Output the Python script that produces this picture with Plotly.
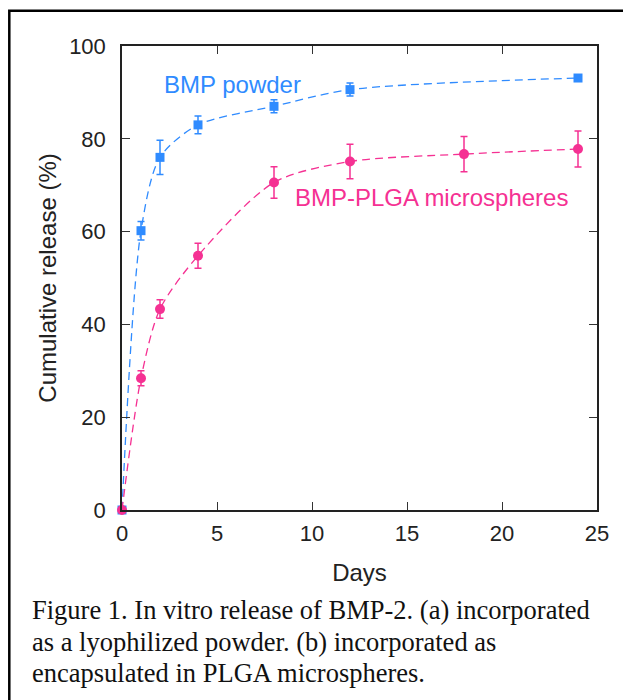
import plotly.graph_objects as go

days = [0, 1, 2, 4, 8, 12, 24]
powder = [0, 60.2, 76.0, 83.0, 87.0, 90.6, 93.1]
powder_err = [0, 2.0, 3.7, 1.9, 1.4, 1.4, 0.0]

days_plga = [0, 1, 2, 4, 8, 12, 18, 24]
plga = [0, 28.4, 43.3, 54.8, 70.6, 75.1, 76.7, 77.8]
plga_err = [0, 1.6, 2.0, 2.7, 3.4, 3.7, 3.8, 3.9]

x_ticks = [0, 5, 10, 15, 20, 25]
y_ticks = [0, 20, 40, 60, 80, 100]

caption_lines = [
    "Figure 1. In vitro release of BMP-2. (a) incorporated",
    "as a lyophilized powder. (b) incorporated as",
    "encapsulated in PLGA microspheres.",
]

BLUE = "#2f8bff"
PINK = "#f53193"

OFF = 8  # page body margin
W, H = 631, 700
L, R, T, B = 121.7 - OFF, 596.7 - OFF, 46.3 - OFF, 509.8 - OFF


def px(xp):
    return (xp - OFF - L) / (R - L)


def py(yp):
    return (B - (yp - OFF)) / (B - T)


fig = go.Figure()
fig.add_trace(go.Scatter(
    x=days, y=powder, mode="lines+markers",
    line=dict(color=BLUE, width=1.3, dash="8px,5px", shape="spline", smoothing=0.8),
    marker=dict(symbol="square", size=9, color=BLUE),
    error_y=dict(type="data", array=powder_err, color=BLUE, thickness=1.5, width=3.5),
    cliponaxis=False, showlegend=False,
))
fig.add_trace(go.Scatter(
    x=days_plga, y=plga, mode="lines+markers",
    line=dict(color=PINK, width=1.3, dash="8px,5px", shape="spline", smoothing=0.8),
    marker=dict(symbol="circle", size=10, color=PINK),
    error_y=dict(type="data", array=plga_err, color=PINK, thickness=1.5, width=3.5),
    cliponaxis=False, showlegend=False,
))

axis_common = dict(
    showline=True, mirror="allticks", linecolor="#222", linewidth=1.5,
    ticks="inside", ticklen=8, tickwidth=1.3, tickcolor="#333",
    showgrid=False, zeroline=False,
    tickfont=dict(family="Liberation Sans, Arial", size=22, color="#222"),
)

fig.update_xaxes(range=[0, 25], tickvals=x_ticks, ticklabelstandoff=3,
                 title=dict(text="Days", font=dict(family="Liberation Sans, Arial", size=24, color="#222"), standoff=19),
                 **axis_common)
fig.update_yaxes(range=[0, 100], tickvals=y_ticks, ticklabelstandoff=10,
                 title=dict(text="Cumulative release (%)", font=dict(family="Liberation Sans, Arial", size=24, color="#222"), standoff=6),
                 **axis_common)

annotations = [
    dict(x=5.83, y=91.6, xref="x", yref="y", text="BMP powder", showarrow=False,
         font=dict(family="Liberation Sans, Arial", size=24, color=BLUE)),
    dict(x=16.3, y=67.3, xref="x", yref="y", text="BMP-PLGA microspheres", showarrow=False,
         font=dict(family="Liberation Sans, Arial", size=24, color=PINK)),
]
for i, line in enumerate(caption_lines):
    annotations.append(dict(
        x=px(30), y=py(610 + 31.5 * i), xref="paper", yref="paper",
        xanchor="left", yanchor="middle", text=line, showarrow=False,
        font=dict(family="Liberation Serif, Times New Roman", size=26.5, color="#111"),
    ))

fig.update_layout(
    width=W, height=H,
    margin=dict(l=L, r=W - R, t=T, b=H - B, pad=0),
    paper_bgcolor="white", plot_bgcolor="white",
    annotations=annotations,
    shapes=[dict(type="rect", xref="paper", yref="paper",
                 x0=px(9), x1=px(680), y0=py(740), y1=py(11),
                 line=dict(color="black", width=2.5), fillcolor="rgba(0,0,0,0)", layer="below")],
)

fig.write_html("out.html")
